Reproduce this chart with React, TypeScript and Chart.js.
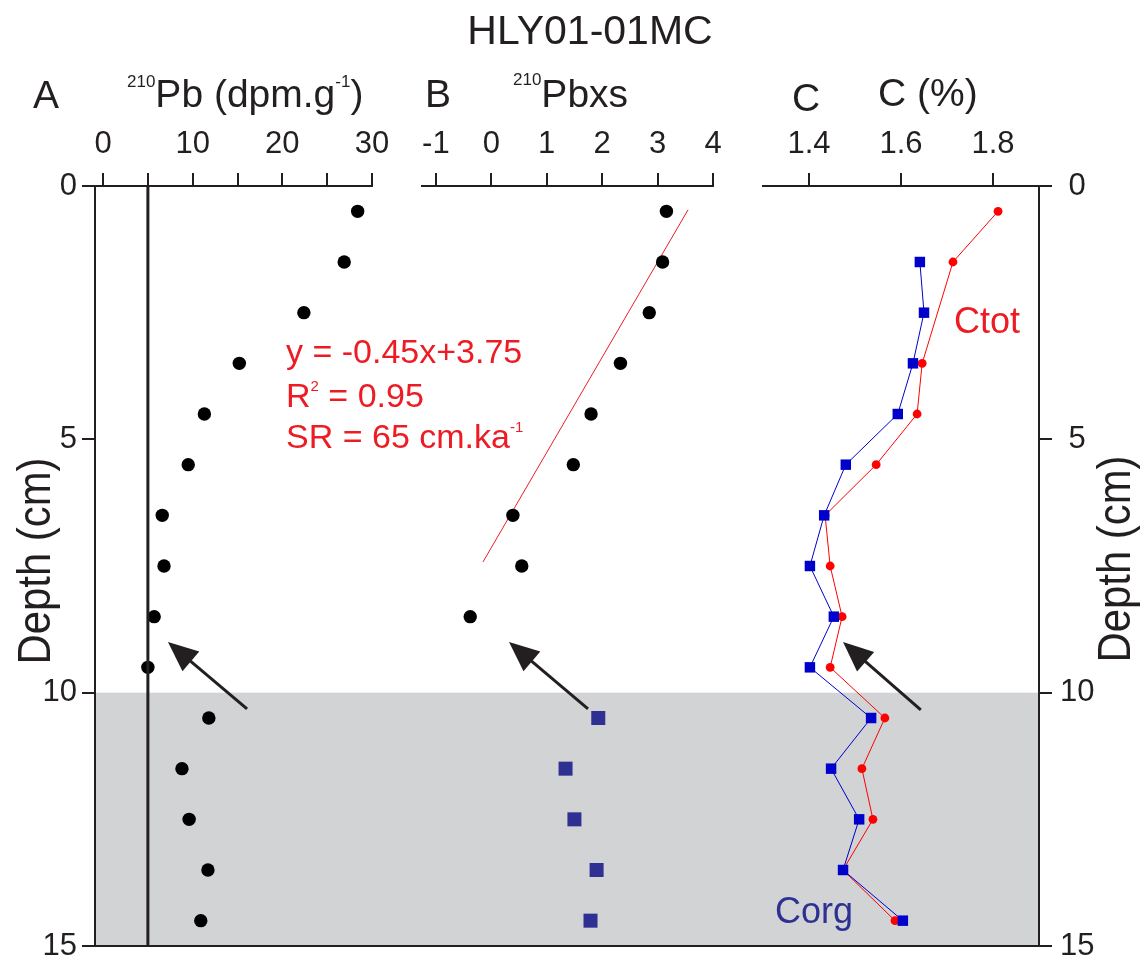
import React, { useEffect, useRef } from 'react';
import { Chart, registerables } from 'chart.js';

Chart.register(...registerables);

// ---------- data ----------
const depthsAll = [0.5, 1.5, 2.5, 3.5, 4.5, 5.5, 6.5, 7.5, 8.5, 9.5, 10.5, 11.5, 12.5, 13.5, 14.5];
const pbTotal = [28.4, 26.9, 22.4, 15.2, 11.3, 9.5, 6.6, 6.8, 5.7, 5.0, 11.8, 8.8, 9.6, 11.7, 10.9];
const pbSupported = 5.0;

const pbxsUpperDepths = [0.5, 1.5, 2.5, 3.5, 4.5, 5.5, 6.5, 7.5, 8.5];
const pbxsUpper = [3.16, 3.09, 2.85, 2.33, 1.8, 1.48, 0.39, 0.55, -0.38];
const pbxsLowerDepths = [10.5, 11.5, 12.5, 13.5, 14.5];
const pbxsLower = [1.93, 1.34, 1.5, 1.9, 1.79];
const fitLineX = [3.55, -0.15];
const fitLineDepth = [0.47, 7.42];

const ctotDepths = [0.5, 1.5, 3.5, 4.5, 5.5, 6.5, 7.5, 8.5, 9.5, 10.5, 11.5, 12.5, 13.5, 14.5];
const ctot = [1.811, 1.713, 1.646, 1.635, 1.546, 1.435, 1.446, 1.472, 1.446, 1.565, 1.515, 1.539, 1.474, 1.587];
const corgDepths = [1.5, 2.5, 3.5, 4.5, 5.5, 6.5, 7.5, 8.5, 9.5, 10.5, 11.5, 12.5, 13.5, 14.5];
const corg = [1.641, 1.65, 1.626, 1.593, 1.48, 1.433, 1.402, 1.454, 1.402, 1.535, 1.448, 1.509, 1.474, 1.604];

const ticksA = [0, 5, 10, 15, 20, 25, 30];
const ticksB = [-1, 0, 1, 2, 3, 4];
const ticksC = [1.4, 1.6, 1.8];
const ticksDepth = [0, 5, 10, 15];

// arrows: [axisId, xFrom, depthFrom, xTo, depthTo]
const arrows: [string, number, number, number, number][] = [
  ['xA', 16.06, 10.32, 7.24, 9.0],
  ['xB', 1.745, 10.32, 0.32, 9.0],
  ['xC', 1.643, 10.34, 1.474, 9.0],
];

const shadedFrom = 10;
const shadedTo = 15;

// ---------- styles ----------
const FONT = '"Liberation Sans", Arial, Helvetica, sans-serif';
const INK = '#231f20';
const RED = '#ed1c24';
const NAVY = '#2e3192';
const BLUE = '#0000cc';
const GRAY = '#d1d3d4';

const pts = (xs: number[], ys: number[]) => xs.map((x, i) => ({ x, y: ys[i] }));

const noPad = (s: any) => {
  s.paddingTop = 0;
  s.paddingBottom = 0;
  s.paddingLeft = 0;
  s.paddingRight = 0;
};

const topAxis = (min: number, max: number, ticks: number[], weight: number, fmt: (v: number) => string) => ({
  type: 'linear',
  position: 'top',
  stack: 'panels',
  stackWeight: weight,
  min,
  max,
  afterBuildTicks: (s: any) => {
    s.ticks = ticks.map((v) => ({ value: v }));
  },
  afterFit: (s: any) => {
    s.height = 186;
    noPad(s);
  },
  ticks: {
    font: { family: FONT, size: 31 },
    color: INK,
    padding: 10,
    maxRotation: 0,
    autoSkip: false,
    callback: (v: number) => fmt(v),
  },
  grid: { drawOnChartArea: false, drawTicks: true, tickLength: 13, color: INK, lineWidth: 2 },
  border: { display: true, color: INK, width: 2 },
});

const gapAxis = (weight: number) => ({
  type: 'linear',
  position: 'top',
  stack: 'panels',
  stackWeight: weight,
  display: false,
  min: 0,
  max: 1,
});

const depthAxis = (position: string, width: number, padding: number, crossAlign: string) => ({
  type: 'linear',
  position,
  reverse: true,
  min: 0,
  max: 15,
  afterBuildTicks: (s: any) => {
    s.ticks = ticksDepth.map((v) => ({ value: v }));
  },
  afterFit: (s: any) => {
    s.width = width;
    noPad(s);
  },
  ticks: { font: { family: FONT, size: 31 }, color: INK, padding, crossAlign },
  grid: { drawOnChartArea: false, drawTicks: true, tickLength: 13, color: INK, lineWidth: 2 },
  border: { display: true, color: INK, width: 2 },
});

function richText(ctx: CanvasRenderingContext2D, x: number, y: number, parts: [string, number, number][], color: string) {
  ctx.fillStyle = color;
  ctx.textAlign = 'left';
  ctx.textBaseline = 'alphabetic';
  let cx = x;
  for (const [t, size, dy] of parts) {
    ctx.font = `${size}px ${FONT}`;
    ctx.fillText(t, cx, y + dy);
    cx += ctx.measureText(t).width;
  }
}

const extrasPlugin = {
  id: 'extras',
  beforeDraw(chart: any) {
    const { ctx, chartArea, scales } = chart;
    const y0 = scales.y.getPixelForValue(shadedFrom);
    const y1 = scales.y.getPixelForValue(shadedTo);
    ctx.save();
    ctx.fillStyle = GRAY;
    ctx.fillRect(chartArea.left, y0, chartArea.right - chartArea.left, y1 - y0);
    ctx.restore();
  },
  afterDatasetsDraw(chart: any) {
    const { ctx, scales } = chart;
    ctx.save();
    for (const [axis, x0v, y0v, x1v, y1v] of arrows) {
      const x0 = scales[axis].getPixelForValue(x0v);
      const y0 = scales.y.getPixelForValue(y0v);
      const x1 = scales[axis].getPixelForValue(x1v);
      const y1 = scales.y.getPixelForValue(y1v);
      const ang = Math.atan2(y1 - y0, x1 - x0);
      const headLen = 30;
      const headHalf = 13;
      const bx = x1 - headLen * Math.cos(ang);
      const by = y1 - headLen * Math.sin(ang);
      ctx.strokeStyle = INK;
      ctx.lineWidth = 3;
      ctx.beginPath();
      ctx.moveTo(x0, y0);
      ctx.lineTo(bx + 4 * Math.cos(ang), by + 4 * Math.sin(ang));
      ctx.stroke();
      ctx.fillStyle = INK;
      ctx.beginPath();
      ctx.moveTo(x1, y1);
      ctx.lineTo(bx - headHalf * Math.sin(ang), by + headHalf * Math.cos(ang));
      ctx.lineTo(bx + headHalf * Math.sin(ang), by - headHalf * Math.cos(ang));
      ctx.closePath();
      ctx.fill();
    }
    ctx.restore();
  },
  afterDraw(chart: any) {
    const { ctx } = chart;
    ctx.save();
    // main title
    ctx.fillStyle = INK;
    ctx.font = `41px ${FONT}`;
    ctx.textAlign = 'center';
    ctx.textBaseline = 'alphabetic';
    ctx.fillText('HLY01-01MC', 590, 44);

    // panel headers
    richText(ctx, 33, 108, [['A', 39, 0]], INK);
    richText(ctx, 127, 107, [['210', 17, -20], ['Pb (dpm.g', 39, 0], ['-1', 17, -20], [')', 39, 0]], INK);
    richText(ctx, 425, 107, [['B', 39, 0]], INK);
    richText(ctx, 513, 107, [['210', 17, -22], ['Pbxs', 39, 0]], INK);
    richText(ctx, 792, 111, [['C', 39, 0]], INK);
    richText(ctx, 878, 106, [['C (%)', 39, 0]], INK);

    // regression annotation
    richText(ctx, 286, 363, [['y = -0.45x+3.75', 34, 0]], RED);
    richText(ctx, 286, 407, [['R', 34, 0], ['2', 15, -16], [' = 0.95', 34, 0]], RED);
    richText(ctx, 286, 448, [['SR = 65 cm.ka', 34, 0], ['-1', 15, -16]], RED);

    // series labels
    richText(ctx, 954, 333, [['Ctot', 36, 0]], RED);
    richText(ctx, 775, 923, [['Corg', 36, 0]], NAVY);

    // depth axis titles
    for (const [x, y] of [[50, 561], [1130, 559]]) {
      ctx.save();
      ctx.translate(x, y);
      ctx.rotate(-Math.PI / 2);
      ctx.scale(0.89, 1);
      ctx.fillStyle = INK;
      ctx.font = `47px ${FONT}`;
      ctx.textAlign = 'center';
      ctx.textBaseline = 'alphabetic';
      ctx.fillText('Depth (cm)', 0, 0);
      ctx.restore();
    }
    ctx.restore();
  },
};

export default function App() {
  const ref = useRef<HTMLCanvasElement | null>(null);

  useEffect(() => {
    if (!ref.current) return;
    const chart = new Chart(ref.current, {
      type: 'scatter',
      data: {
        datasets: [
          // Panel A
          {
            label: 'Supported 210Pb',
            data: [{ x: pbSupported, y: 0 }, { x: pbSupported, y: 15 }],
            xAxisID: 'xA',
            yAxisID: 'y',
            showLine: true,
            borderColor: INK,
            borderWidth: 3,
            pointRadius: 0,
          },
          {
            label: '210Pb',
            data: pts(pbTotal, depthsAll),
            xAxisID: 'xA',
            yAxisID: 'y',
            backgroundColor: '#000000',
            borderColor: '#000000',
            borderWidth: 0,
            pointRadius: 6.7,
          },
          // Panel B
          {
            label: '210Pbxs',
            data: pts(pbxsUpper, pbxsUpperDepths),
            xAxisID: 'xB',
            yAxisID: 'y',
            backgroundColor: '#000000',
            borderColor: '#000000',
            borderWidth: 0,
            pointRadius: 6.7,
          },
          {
            label: '210Pbxs lower',
            data: pts(pbxsLower, pbxsLowerDepths),
            xAxisID: 'xB',
            yAxisID: 'y',
            pointStyle: 'rect',
            backgroundColor: NAVY,
            borderColor: NAVY,
            borderWidth: 0,
            pointRadius: 9.9,
          },
          {
            label: 'fit',
            data: pts(fitLineX, fitLineDepth),
            xAxisID: 'xB',
            yAxisID: 'y',
            showLine: true,
            borderColor: RED,
            borderWidth: 1,
            pointRadius: 0,
          },
          // Panel C
          {
            label: 'Corg',
            data: pts(corg, corgDepths),
            xAxisID: 'xC',
            yAxisID: 'y',
            showLine: true,
            borderColor: BLUE,
            backgroundColor: BLUE,
            borderWidth: 1,
            pointStyle: 'rect',
            pointRadius: 7.4,
            pointBorderWidth: 0,
          },
          {
            label: 'Ctot',
            data: pts(ctot, ctotDepths),
            xAxisID: 'xC',
            yAxisID: 'y',
            showLine: true,
            borderColor: '#ff0000',
            backgroundColor: '#ff0000',
            borderWidth: 1,
            pointRadius: 4.4,
            pointBorderWidth: 0,
          },
        ],
      },
      options: {
        animation: false,
        responsive: false,
        devicePixelRatio: 1,
        layout: { padding: 0 },
        plugins: {
          legend: { display: false },
          tooltip: { enabled: false },
          title: { display: false },
        },
        scales: {
          // top stack is laid out from the last-declared to the first-declared
          xC: topAxis(1.3, 1.9, ticksC, 276, (v) => v.toFixed(1)),
          gap2: gapAxis(50),
          xB: topAxis(-1.25, 4, ticksB, 291, (v) => String(v)),
          gap1: gapAxis(50),
          xA: topAxis(-0.9, 30, ticksA, 277, (v) => (v % 10 === 0 ? String(v) : '')),
          xBottom: {
            type: 'linear',
            position: 'bottom',
            min: 0,
            max: 1,
            ticks: { display: false },
            grid: { display: false, drawTicks: false },
            border: { display: true, color: INK, width: 2 },
            afterFit: (s: any) => {
              s.height = 19;
              noPad(s);
            },
          },
          y: depthAxis('left', 95, 5, 'near'),
          y2: depthAxis('right', 107, 8, 'center'),
        },
      },
      plugins: [extrasPlugin],
    } as any);
    return () => chart.destroy();
  }, []);

  return (
    <div style={{ position: 'absolute', left: 0, top: 0, width: 1146, height: 965, background: '#ffffff' }}>
      <canvas ref={ref} width={1146} height={965} style={{ display: 'block', width: 1146, height: 965 }} />
    </div>
  );
}
